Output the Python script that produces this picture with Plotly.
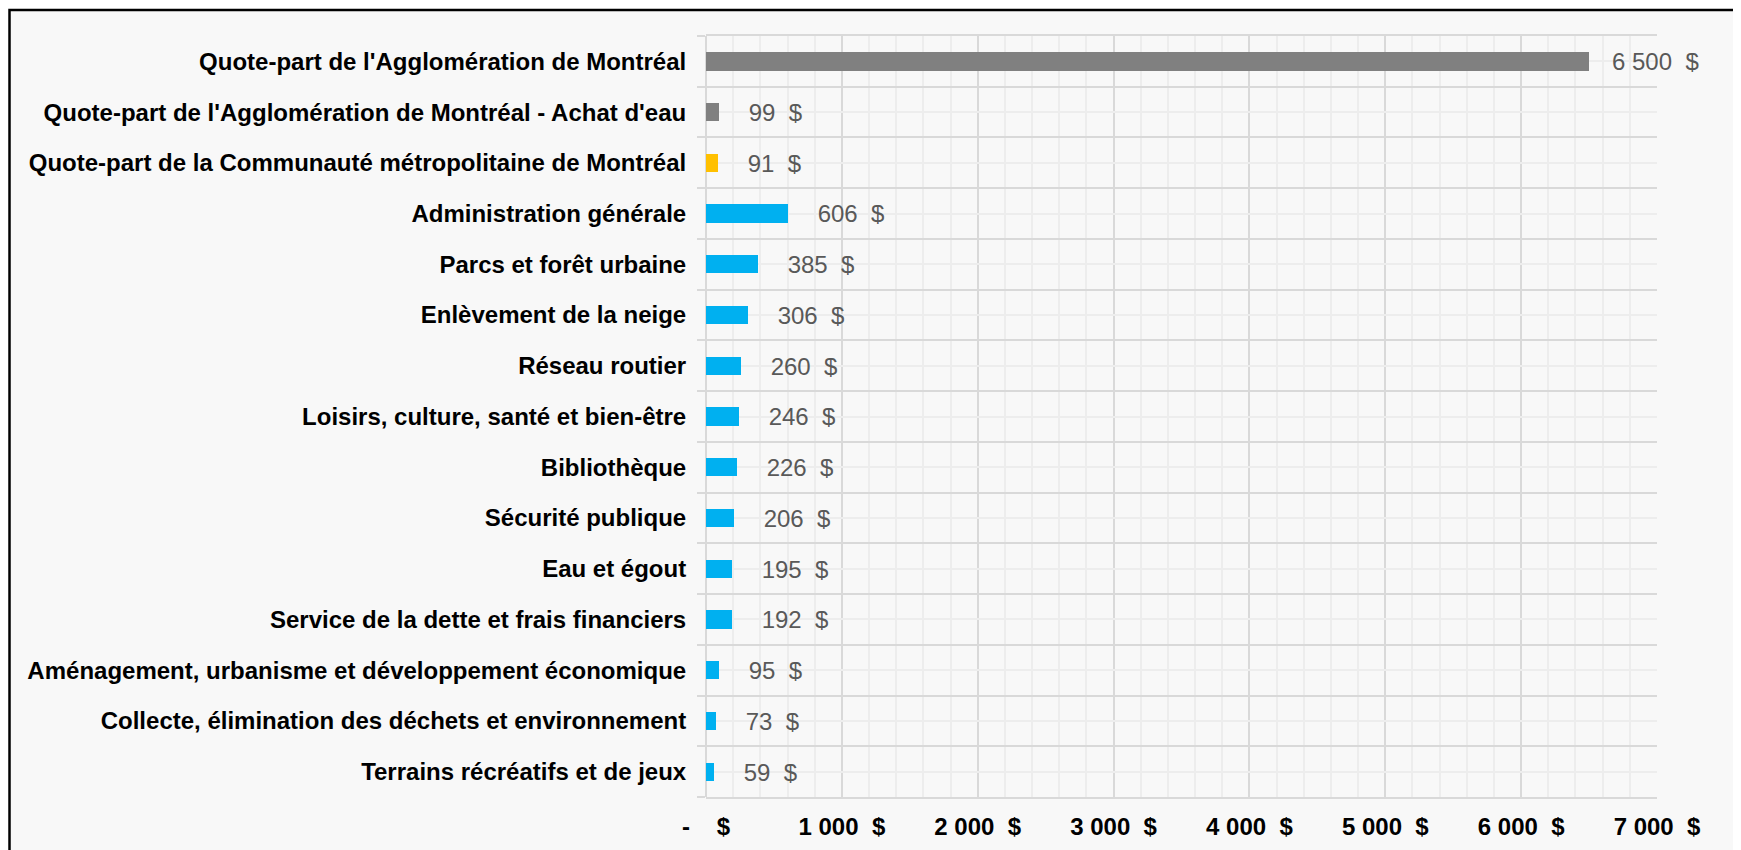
import plotly.graph_objects as go

categories = [
    "Quote-part de l'Agglomération de Montréal",
    "Quote-part de l'Agglomération de Montréal - Achat d'eau",
    "Quote-part de la Communauté métropolitaine de Montréal",
    "Administration générale",
    "Parcs et forêt urbaine",
    "Enlèvement de la neige",
    "Réseau routier",
    "Loisirs, culture, santé et bien-être",
    "Bibliothèque",
    "Sécurité publique",
    "Eau et égout",
    "Service de la dette et frais financiers",
    "Aménagement, urbanisme et développement économique",
    "Collecte, élimination des déchets et environnement",
    "Terrains récréatifs et de jeux",
]
values = [6500, 99, 91, 606, 385, 306, 260, 246, 226, 206, 195, 192, 95, 73, 59]
groups = ["agglo", "agglo", "cmm"] + ["local"] * 12

x_tick_values = [0, 1000, 2000, 3000, 4000, 5000, 6000, 7000]
x_tick_labels = ["-\u00a0\u00a0\u00a0\u00a0$", "1 000\u00a0\u00a0$", "2 000\u00a0\u00a0$",
                 "3 000\u00a0\u00a0$", "4 000\u00a0\u00a0$", "5 000\u00a0\u00a0$",
                 "6 000\u00a0\u00a0$", "7 000\u00a0\u00a0$"]

group_colors = {"agglo": "#808080", "cmm": "#FFC000", "local": "#00B0F0"}

# the page body has an 8px margin, so the figure is drawn 8px in from top-left
W, H = 1733, 842
L, R, T, B = 698, 84, 28, 53
FONT = "Liberation Sans, Arial, sans-serif"

def fmt(v):
    s = f"{v:,}".replace(",", " ")
    lead = "\u00a0" * (3 if v >= 1000 else 4)
    return f"{lead}{s}\u00a0\u00a0$"

ypos = list(range(len(categories)))
bar_colors = [group_colors[g] for g in groups]

fig = go.Figure()
fig.add_trace(go.Bar(
    x=values, y=ypos, orientation="h",
    marker=dict(color=bar_colors, line=dict(width=0)),
    width=0.36,
    text=[fmt(v) for v in values],
    textposition="outside",
    textfont=dict(family=FONT, size=24, color="#595959"),
    cliponaxis=False,
    constraintext="none",
    hoverinfo="skip",
))

pw = W - L - R
ph = H - T - B

def px_to_paper_x(px):
    return (px - L) / pw

def px_to_paper_y(py):
    return (H - B - py) / ph

# frame around the whole chart
fig.add_shape(type="rect", xref="paper", yref="paper",
              x0=px_to_paper_x(1.5), x1=px_to_paper_x(1727),
              y0=px_to_paper_y(870), y1=px_to_paper_y(2),
              line=dict(color="black", width=2.5), fillcolor="#F8F8F8", layer="below")

fig.update_layout(
    width=W, height=H,
    margin=dict(l=L, r=R, t=T, b=B, pad=0, autoexpand=False),
    paper_bgcolor="white",
    plot_bgcolor="#F8F8F8",
    showlegend=False,
    bargap=0,
    font=dict(family=FONT, size=24, color="black"),
)
fig.update_xaxes(
    range=[0, 7000], automargin=False,
    tickmode="array", tickvals=x_tick_values, ticktext=x_tick_labels,
    tickfont=dict(family=FONT, size=24, color="black", weight="bold"),
    showgrid=True, gridcolor="#D9D9D9", gridwidth=2,
    zeroline=True, zerolinecolor="#D9D9D9", zerolinewidth=2,
    showline=True, linecolor="#D9D9D9", linewidth=2, mirror=True,
    ticks="", ticklabelstandoff=7,
    minor=dict(dtick=200, tick0=0, showgrid=True, gridcolor="#EDEDED", gridwidth=1.5, ticks=""),
    fixedrange=True,
)
fig.update_yaxes(
    range=[len(categories) - 0.5, -0.5], automargin=False,
    tickmode="array", tickvals=ypos, ticktext=categories,
    tickfont=dict(family=FONT, size=24, color="black", weight="bold"),
    showgrid=True, gridcolor="#EDEDED", gridwidth=1.5,
    zeroline=False,
    ticks="outside", ticklen=8, tickcolor="rgba(0,0,0,0)",
    ticklabelstandoff=6,
    minor=dict(tickmode="array", tickvals=[i - 0.5 for i in range(len(categories) + 1)],
               showgrid=True, gridcolor="#D9D9D9", gridwidth=2,
               ticks="outside", ticklen=8, tickcolor="#D9D9D9", tickwidth=2),
    fixedrange=True,
)

fig.write_html("out.html")
